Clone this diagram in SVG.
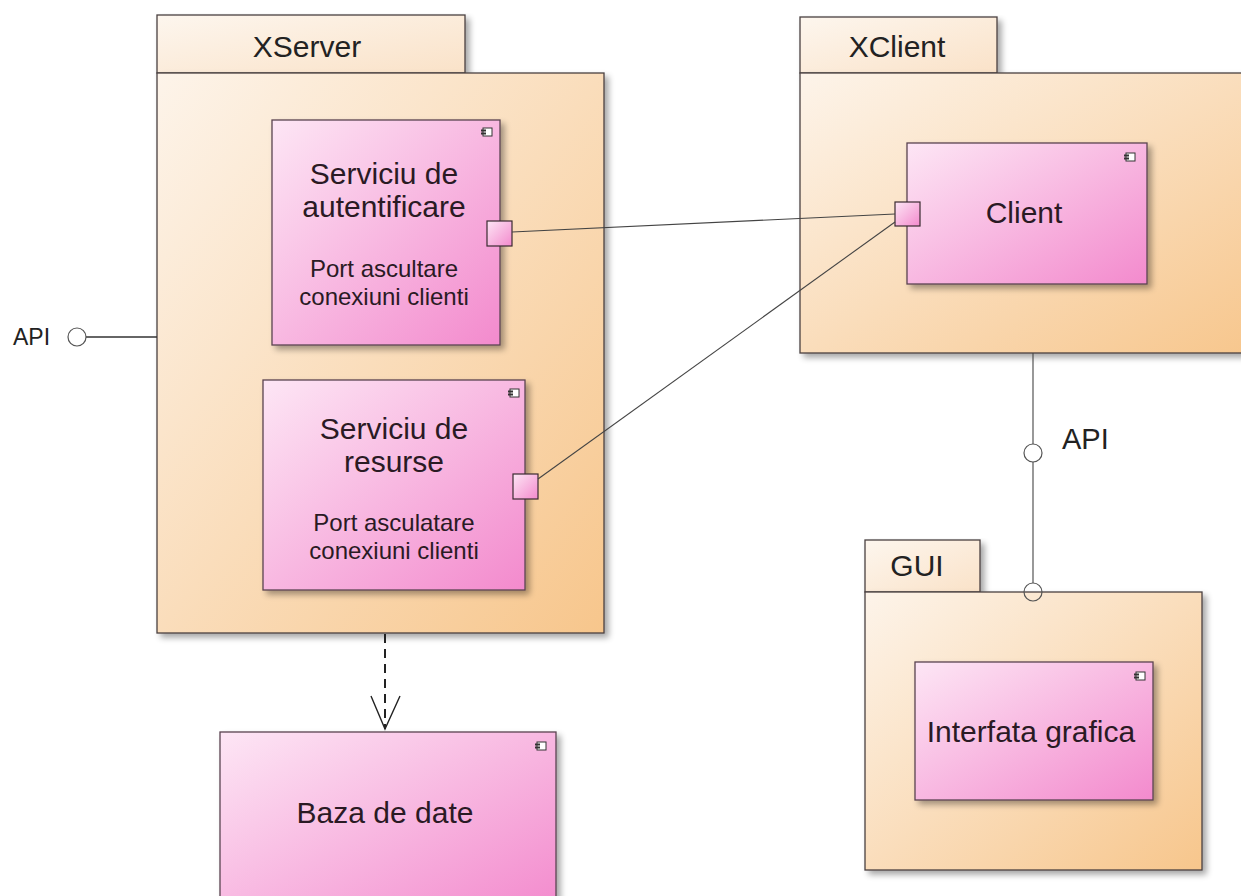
<svg xmlns="http://www.w3.org/2000/svg" width="1241" height="896" viewBox="0 0 1241 896">
  <defs>
    <linearGradient id="pkgFill" x1="0" y1="0" x2="1" y2="1">
      <stop offset="0" stop-color="#fdf4ea"/>
      <stop offset="1" stop-color="#f7c68c"/>
    </linearGradient>
    <linearGradient id="tabFill" x1="0" y1="0" x2="1" y2="1">
      <stop offset="0" stop-color="#fdf6ee"/>
      <stop offset="1" stop-color="#fae2c8"/>
    </linearGradient>
    <linearGradient id="cmpFill" x1="0" y1="0" x2="1" y2="1">
      <stop offset="0" stop-color="#fde6f5"/>
      <stop offset="1" stop-color="#f38acd"/>
    </linearGradient>
    <filter id="shadow" x="-10%" y="-10%" width="125%" height="125%">
      <feGaussianBlur in="SourceAlpha" stdDeviation="3"/>
      <feOffset dx="4" dy="4"/>
      <feComponentTransfer><feFuncA type="linear" slope="0.35"/></feComponentTransfer>
      <feMerge><feMergeNode/><feMergeNode in="SourceGraphic"/></feMerge>
    </filter>
    <marker id="openArrow" markerWidth="32" markerHeight="36" refX="15" refY="34" orient="0" markerUnits="userSpaceOnUse">
      <path d="M1,1 L15,34 L30,1" fill="none" stroke="#222" stroke-width="1.4"/>
    </marker>
    <g id="cmpIcon">
      <rect x="0" y="0" width="9" height="8" fill="#fff" stroke="#333" stroke-width="1"/>
      <rect x="-2" y="1.5" width="5" height="2" fill="#333"/>
      <rect x="-2" y="4.5" width="5" height="2" fill="#333"/>
    </g>
  </defs>
  <style>
    .pkg { fill: url(#pkgFill); stroke: #4a4040; stroke-width: 1.3; }
    .tab { fill: url(#tabFill); stroke: #4a4040; stroke-width: 1.3; }
    .cmp { fill: url(#cmpFill); stroke: #5a4450; stroke-width: 1.3; }
    .port { fill: url(#cmpFill); stroke: #3a2a30; stroke-width: 1.2; }
    .lbl { font-family: "Liberation Sans", Arial, sans-serif; fill: #2a1a24; text-anchor: middle; }
    .big { font-size: 30px; }
    .small { font-size: 24px; }
    .pname { font-family: "Liberation Sans", Arial, sans-serif; fill: #222; font-size: 30px; text-anchor: middle; }
    .wire { fill: none; stroke: #444; stroke-width: 1.1; }
    .iface { fill: #fff; stroke: #555; stroke-width: 1.2; }
  </style>

  <rect width="1241" height="896" fill="#fff"/>

  <!-- XServer package -->
  <g id="xserver">
    <rect class="tab" x="157" y="15" width="308" height="58" filter="url(#shadow)"/>
    <rect class="pkg" x="157" y="73" width="447" height="560" filter="url(#shadow)"/>
    <text class="pname" x="307" y="57">XServer</text>
  </g>

  <!-- XClient package -->
  <g id="xclient">
    <rect class="tab" x="800" y="17" width="197" height="56" filter="url(#shadow)"/>
    <rect class="pkg" x="800" y="73" width="460" height="280" filter="url(#shadow)"/>
    <text class="pname" x="897" y="57">XClient</text>
  </g>

  <!-- GUI package -->
  <g id="gui">
    <rect class="tab" x="865" y="540" width="115" height="52" filter="url(#shadow)"/>
    <rect class="pkg" x="865" y="592" width="337" height="278" filter="url(#shadow)"/>
    <text class="pname" x="917" y="576">GUI</text>
  </g>

  <!-- Serviciu de autentificare -->
  <g id="auth">
    <rect class="cmp" x="272" y="120" width="228" height="225" filter="url(#shadow)"/>
    <use href="#cmpIcon" x="483" y="128"/>
    <text class="lbl big" x="384" y="184">Serviciu de</text>
    <text class="lbl big" x="384" y="217">autentificare</text>
    <text class="lbl small" x="384" y="277">Port ascultare</text>
    <text class="lbl small" x="384" y="305">conexiuni clienti</text>
    <rect class="port" x="487" y="221" width="25" height="25"/>
  </g>

  <!-- Serviciu de resurse -->
  <g id="resurse">
    <rect class="cmp" x="263" y="380" width="262" height="210" filter="url(#shadow)"/>
    <use href="#cmpIcon" x="510" y="389"/>
    <text class="lbl big" x="394" y="439">Serviciu de</text>
    <text class="lbl big" x="394" y="472">resurse</text>
    <text class="lbl small" x="394" y="531">Port asculatare</text>
    <text class="lbl small" x="394" y="559">conexiuni clienti</text>
    <rect class="port" x="513" y="474" width="25" height="25"/>
  </g>

  <!-- Client -->
  <g id="client">
    <rect class="cmp" x="907" y="143" width="240" height="141" filter="url(#shadow)"/>
    <use href="#cmpIcon" x="1126" y="153"/>
    <text class="lbl big" x="1024" y="223">Client</text>
    <rect class="port" x="895" y="202" width="25" height="24"/>
  </g>

  <!-- Interfata grafica -->
  <g id="interfata">
    <rect class="cmp" x="915" y="662" width="238" height="138" filter="url(#shadow)"/>
    <use href="#cmpIcon" x="1136" y="672"/>
    <text class="lbl big" x="1031" y="742">Interfata grafica</text>
  </g>

  <!-- Baza de date -->
  <g id="baza">
    <rect class="cmp" x="220" y="732" width="336" height="180" filter="url(#shadow)"/>
    <use href="#cmpIcon" x="537" y="742"/>
    <text class="lbl big" x="385" y="823">Baza de date</text>
  </g>

  <!-- Connectors -->
  <g id="connectors">
    <line class="wire" x1="512" y1="232" x2="895" y2="214" stroke="#333" stroke-width="1.4"/>
    <line class="wire" x1="538" y1="479" x2="895" y2="222"/>
    <line x1="385" y1="634" x2="385" y2="729" stroke="#222" stroke-width="2" stroke-dasharray="9,6" marker-end="url(#openArrow)"/>
    <line x1="86" y1="337" x2="157" y2="337" stroke="#333" stroke-width="1.3"/>
    <circle class="iface" cx="77" cy="337" r="9"/>
    <text x="13" y="345" style="font-family:'Liberation Sans', Arial, sans-serif; font-size:23px; fill:#222">API</text>
    <line class="wire" x1="1033" y1="353" x2="1033" y2="583" stroke-width="1.4"/>
    <circle class="iface" cx="1033" cy="453" r="9"/>
    <circle class="iface" cx="1033" cy="592" r="9" style="fill:none"/>
    <text x="1062" y="449" style="font-family:'Liberation Sans', Arial, sans-serif; font-size:29px; fill:#222">API</text>
  </g>
</svg>
